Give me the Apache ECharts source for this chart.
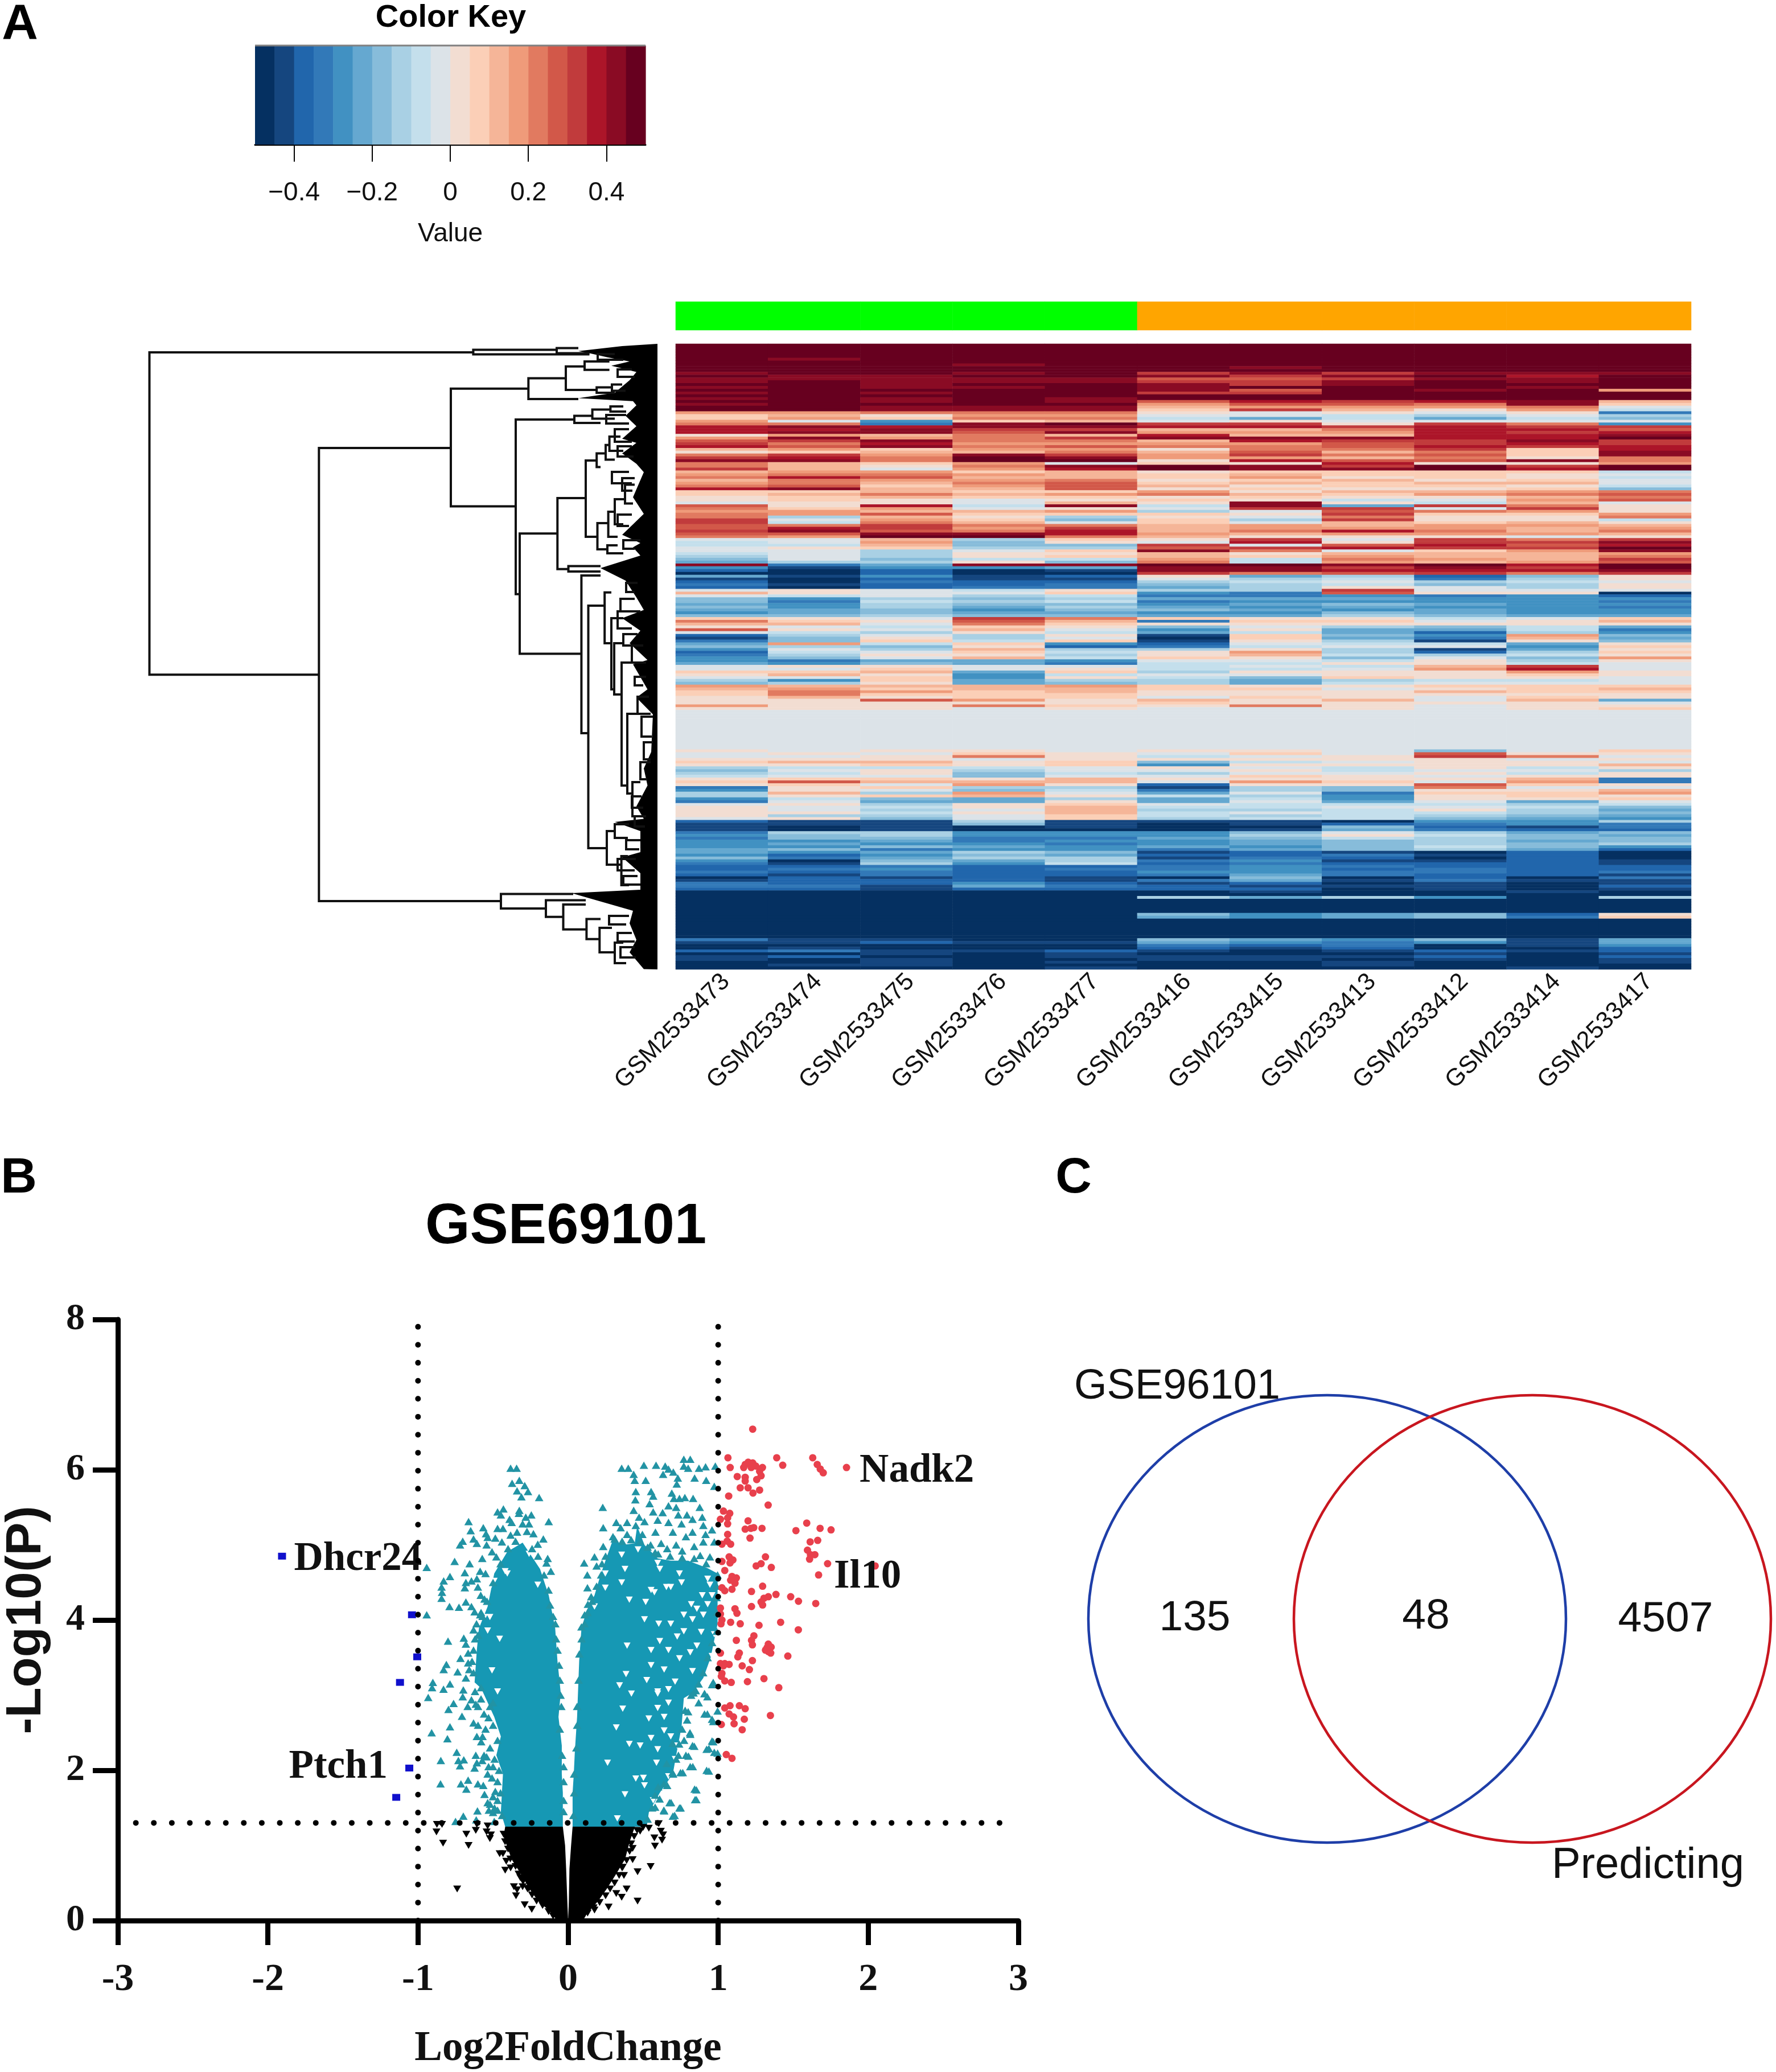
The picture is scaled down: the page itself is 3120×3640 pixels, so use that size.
<!DOCTYPE html>
<html><head><meta charset="utf-8">
<script src="https://cdn.jsdelivr.net/npm/echarts@6/dist/echarts.min.js"></script>
<style>html,body{margin:0;padding:0;background:#fff}#c{width:3120px;height:3640px}</style></head>
<body><div id="c"></div>
<script>
const keyColors=['#053061','#15467F','#2166AC','#3279B8','#4191C2','#65A8D0','#87BCDA','#A9D0E4','#C4DFEC','#DCE3E8','#F2DDD2','#FBCFB7','#F5B598','#EF9B7A','#E17A60','#D25849','#C13B3C','#AC1529','#8A0B24','#67001F'];
const keyTicks=[-0.4,-0.2,0,0.2,0.4];
const samples=['GSM2533473','GSM2533474','GSM2533475','GSM2533476','GSM2533477','GSM2533416','GSM2533415','GSM2533413','GSM2533412','GSM2533414','GSM2533417'];
const sampleGroups=[0,0,0,0,0,1,1,1,1,1,1];
// heat levels: a (lowest bin of the key) .. t (highest bin); one letter per sample; trailing number = repeated rows
const heatLevels=['ttttttttttt5','tsttttttttt','ttttttttttt','tttsttttttt','ttttttstttt','ttttttttttt',
'sttstqsqsss','tssttsqstrt','ssssspp qsst'.replace(' ',''),'stsssqqstst','ttsttsqsttt','stsststtts t'.replace(' ',''),'tttttsptstn','ststtqqtttt','ttttttttttt','ststsstttttt'.slice(0,5)+'tttttt','ttstsprqrsm','sttttnpposl','ttsssmnnnoj','ttssslqmkni','nnoookjkjkd','lmknnjjihjh','lnlooififig','njelmjkjjjj','oodstqqkqoe','rsrssrrqrqq','rrsqqmmorrp','rsspsnnnrqr','knmomrmmrrs','nsnoqsssrrt','pqsoomrqqsq','qornnnnpqrq','rpsopooprqr','mnlnnkooqlr','klmmompmols','oqnsqnqopls','qrotsnnmoko','ssottkrppso','omlnjlkrkkn','omkostsqtqt','qmjnrtsstrt','mnnlmklllli','noonmlmllkj','orpmmlnklki','monnoklmklj','nomoplmlmmj','oplnpmkllki','rsmmpklkklg','llmllnkmmno','lmomnomlnop','klmllklkkmo','klkjklkijnp','jkkjmkskimj','pkrisisfqok','olnjkjqqjqk','nnmmnhjponk','onplllkqlln','ohmkhkjokko','qjnlglhqkki','qiomjljmlmk','poqoomnmnnm','prqnqmnnnmn','qspormoromo','ppssrnmnnnm','onttomkkkjk','jjmhlkqjqoq','ijngkjrkqqs','iimggqjprpr','jklhhpqrqqt','jjhjlsojlns','ijhkkmkmmmn','hjhklmlnmmo','gjgiinionmq','fhhkgoinmnp','sdfssttstrt','ebeefssqsqt','cacabssrrrs','aacaaqopqoq','fbebckfhcgk','bacbbjhidhk','cadcchijhij','dbccdghighk','cacddfhkjhk','jkjikhhqjjj','mkjjledpkka','jijhiddedec','gehghfffeee','gdihideeeed','fehggefgfee','gehfhfefeed','ffgeggfefee','efgffeegfee','gghggffhgff','lkjqolkkijl','olkpmdlljkm','mmjolkkkkkk','kjilkgjhgif','pkjmjekffid','jihkififche','chjhkblgeng','bgkhjalfdmf','dglilbkhbkg','fnilecjiifk','ghgkcdijjel','ejhmhhkhbfk','cijliknhchl','dhkkhkmihik','egjmilkgjgn','edffejjikhk','fegfdiikkij','jkkjjijimqj','jjljkiijnrj','llmflhkkknk','kmkeijjkklk','jjlekiglkkj','helfhhfhiij','ghkfghfijjj',
'nmmmnlkklll','mnlmmlljklm','lonlmkkkmll','lolllkkkkkk','kmklljlkjlk','kkpnkmkmjmf','kkkkklkkkkj','nkkolkokjkk','kkkjkjjkjkl','jjjjjjjjjjj14',
'kjkkjkkjgjl','jkjlkjljpkk','jjkokijkqoj','kkkjkkkkkjk','lmmklgijkkj','kklklekkkkm','hiiijkjikik','gjkhjjkijjh','hikgihjjkik','ijjgjjlkjkk','kllkmkkkkmd','lpmmmjnljnd','kljnkckkplk','dklhhbhgojj','ekjgidhgkkm','hmhnjfjdlln','hklmkiheklk','eigfhfiekkl','djffkfjfjfj','jkhkljiiihi','kjikmiijjig','kjhjmhhikhf','kkikmijiihg','khhjlihihgf','jkgjlhiigfe',
'cbbhbbbaeeh','bbbgbabcded','bababaagcbd','babaaabfdcc','dhheeegjhfg','egheeehkigf','dggddfgihgg','eefdeefghfg','efeedefghgh','eegfefegige','fgdeedfghfc','fefhgbcbaca','ecegfccdbca','gdfhhbdcaca','eagfhdebbcb','dbheicdcccb','ccdccdedccc','cdecddecdcc','dcdcceeddcd','cbdccdfdccb','acbcbagacad','bcccbdfbdbb','dccecbcabab','ddbfdcbbbac','ccbccccabab',
'aaaaaabaaba','aaaaaaaaaaa','aaaaahfheah','aaaaaaaaaaa5','aaaaagefgck','aaaaafefgdl','aaaaaaaaaaa7','dbbaagfegbf','bbcbbfedebf','aaaaadcdabe','abaaacbcaac','cdbbcbabcbc','aababaaabab','bcaabbbbcac','babaabbabab','aababaabaab','abbaaaabaaa','aaaabaaaaba'];
// dendrogram: [merge height, top leaf, top child height, bottom leaf, bottom child height]
const dendroMerges=[[892.5,14.9,323.6,581.3,594.7],[323.6,10.5,177,18.5,119.5],[177,7.5,139,16.4,119.5],[594.7,183,363,979,275],[363,78.7,226.7,285.6,249],[226.7,60.4,161,97,139],[161,39.8,128,81,106.8],[128,31,84.4,45.7,84.4],[106.8,76.5,80,86,75],[80,71.4,62,82.4,56],[249,133,146,439.7,242],[146,126.4,114.4,138.9,100],[114.4,115.4,82.6,131.5,75],[82.6,110,60,119,55],[242,333.3,175.7,544.6,133.6],[175.7,271,126,395.7,156.5],[126,205,106.8,339,105.5],[106.8,192.4,91,216.6,100],[91,177.8,84.4,203.4,75],[84.4,163,65,188,60],[105.5,315,86,361,88],[86.4,295,75,339,70],[75,273,57,317,60],[57,247.5,40,280.5,43],[88,354,70,368,60],[156.5,390.5,100,400,100],[133.6,407,100,684,121.5],[121.5,460,92.8,886,89],[92.8,436.7,81,526,81],[81,482,60,607,76],[76,526,62,616,63],[63,560,45,776,53],[53,650,30,790,44],[44,770,30,830,30],[89,856,75,915,63.4],[75,844,50,868,52],[63.4,900,52,951,50],[275,966.5,148,992,196],[196,977.5,126,1006.8,165.5],[165.5,985,126,1028.8,124.6],[124.6,1010.5,100,1045.7,101.7],[101.7,1026,80,1069,75],[75,1052,60,1088,55],
[62,236,40,258,44],[70,300,45,320,50],[60,345,30,360,40],[55,420,35,436,40],[65,448,40,470,30],[70,470,40,500,45],[60,510,35,530,40],[45,530,25,560,20],[40,585,20,600,25],[35,620,15,650,12],[28,655,8,690,10],[24,700,8,730,12],[30,735,12,765,18],[45,795,28,815,25],[40,830,20,848,22],[55,872,30,888,32],[70,905,38,925,40],[60,935,35,950,30],[85,1005,50,1020,55],[70,1035,45,1050,40],[65,1060,40,1078,38],[105,18,75,28,60],[70,45,45,58,40],[90,125,55,140,50],[75,150,50,172,45],[70,180,45,198,42],[80,225,50,245,45]];
// dendrogram leaf fans: envelope [height, leaf]
const dendroLeafFan=[[0,0],[62,3.9],[139,12.7],[119.5,16.4],[87.6,23.7],[49,31],[81,38.4],[37,49.4],[49,64],[75,86],[139,95.6],[43,100.7],[37,108],[56,126.4],[37,144.7],[62,166.8],[37,174],[62,192.4],[37,210.8],[24,225.4],[43,269.5],[24,298.8],[62,335.5],[30,350],[43,357.5],[30,372],[100,394],[56,416],[37,445.6],[24,467.6],[62,482],[30,504],[49,526],[17.5,555.6],[43,563],[17.5,607],[37,621.6],[8,651],[11,717],[24,746],[17.5,776],[37,812.4],[24,834.4],[75,840],[30,856],[30,893],[62,902],[30,930],[30,959],[151,965],[43,996],[49,1018],[37,1047],[49,1069],[24,1098.5],[0,1099]];
const thresholdsFC=[-1,1];
const thresholdP=1.3;
const massUpLeft=[[-.303,5.03],[-.187,4.68],[-.129,4.33],[-.086,3.89],[-.071,3.46],[-.049,3.03],[-.064,2.71],[-.042,2.33],[-.042,1.95],[-.035,1.7],[-.035,1.25],[-.419,1.25],[-.448,1.44],[-.434,1.95],[-.478,2.2],[-.448,2.45],[-.492,2.71],[-.579,3.09],[-.623,3.17],[-.608,3.6],[-.594,3.89],[-.536,4.18],[-.492,4.62],[-.405,4.91]];
const massUpRight=[[.03,1.25],[.03,1.7],[.038,1.95],[.045,2.25],[.06,2.71],[.067,3.09],[.074,3.46],[.089,3.89],[.125,4.13],[.176,4.33],[.219,4.62],[.27,4.91],[.299,5.07],[.364,5],[.444,5.02],[.46,5.25],[.509,5],[.597,4.82],[.684,4.79],[.8,4.79],[.93,4.69],[.996,4.62],[.996,3.95],[.95,3.5],[.901,3.23],[.829,3.03],[.771,2.96],[.756,2.58],[.72,2.2],[.698,1.95],[.611,1.7],[.538,1.44],[.524,1.25]];
const massNsLeft=[[-.419,1.25],[-.43,1.12],[-.375,.81],[-.318,.63],[-.26,.43],[-.2,.26],[-.13,.14],[-.085,.03],[-.08,0],[0,0],[-.005,.25],[-.013,.69],[-.02,1],[-.035,1.25]];
const massNsRight=[[.03,1.25],[.02,1],[.009,.69],[.005,.25],[0,0],[.09,0],[.12,.08],[.2,.26],[.26,.43],[.32,.62],[.38,.82],[.41,1.05],[.445,1.25]];
const upGaps=[[.357,4.87],[.357,4.5],[.379,4.68],[.466,4.94],[.597,4.76],[.611,4.68],[.742,4.62],[.756,4.5],[.93,4.55],[.945,4.47],[.894,4.33],[.821,4.21],[.858,4.15],[.517,4.24],[.553,4.4],[.575,4.37],[.655,4.44],[.684,4.44],[.408,4.27],[.248,4.62],[.248,4.43],[.176,4.18],[.509,4.01],[.604,3.95],[.684,3.95],[.771,3.85],[.727,3.78],[.611,3.72],[.553,3.6],[.742,3.49],[.829,4.01],[.669,3.6],[.887,3.84],[.553,3.4],[.64,3.34],[.713,3.18],[.597,3.05],[.669,3.08],[.393,3.66],[.343,3.13],[.386,3.28],[.814,3.57],[.524,3.2],[.771,4.07],[.858,3.66],[.93,4.21],[.959,4.33],[.901,4.07],[.974,3.81],[.959,3.52],[.829,3.32],[.597,3.02],[.597,2.83],[.669,2.9],[.538,2.69],[.64,2.71],[.64,2.53],[.597,2.28],[.589,2.1],[.451,1.89],[.502,1.9],[.509,1.8],[.48,2.33],[.263,2.1],[.328,1.36],[.567,1.6],[.379,1.68],[.408,2.35],[.321,2.57],[.364,2.82],[.422,3.02],[.727,2.33],[.684,2.45],[.713,2.15],[.669,1.92],[.553,2.43],[.611,1.57],[-.507,3.33],[-.456,3.75],[-.536,3.86],[-.521,4.04],[-.55,4.27],[-.572,4.24],[-.492,4.52],[-.405,4.62],[-.419,4.65],[-.202,4.47],[-.47,3.05],[-.528,4.41],[-.557,4.04],[-.26,4.88]];
const upPoints=[[-.383,6.02],[-.343,6.02],[-.373,5.82],[-.325,5.86],[-.289,5.79],[-.34,5.72],[-.267,5.71],[-.311,5.64],[-.193,5.63],[-.47,5.44],[-.431,5.48],[-.448,5.4],[-.325,5.46],[-.328,5.42],[-.245,5.4],[-.282,5.37],[-.39,5.34],[-.376,5.3],[-.303,5.28],[-.26,5.28],[-.129,5.31],[-.663,5.31],[-.649,5.19],[-.565,5.23],[-.547,5.15],[-.536,5.1],[-.47,5.22],[-.434,5.22],[-.34,5.17],[-.383,5.13],[-.274,5.18],[-.231,5.15],[-.165,5.08],[-.202,5.01],[-.485,5.09],[-.441,5.04],[-.63,5.08],[-.608,5.02],[-.702,5.05],[-.72,5],[-.543,5],[-.756,4.78],[-.656,4.75],[-.942,4.7],[-.572,4.82],[-.507,4.91],[-.478,4.84],[-.136,4.82],[-.144,4.76],[-.115,4.65],[-.787,4.58],[-.829,4.52],[-.843,4.44],[-.84,4.37],[-.843,4.29],[-.688,4.63],[-.681,4.5],[-.644,4.52],[-.688,4.43],[-.601,4.44],[-.586,4.65],[-.55,4.62],[-.608,4.55],[-.582,4.33],[-.557,4.28],[-.681,4.24],[-.644,4.18],[-.727,4.17],[-.79,4.18],[-.942,4.07],[-.623,4.11],[-.586,4.07],[-.63,3.87],[-.695,3.76],[-.8,3.72],[-.681,3.68],[-.666,3.56],[-.717,3.49],[-.811,3.41],[-.829,3.34],[-.736,3.31],[-.666,3.43],[-.659,3.34],[-.681,3.23],[-.901,3.17],[-.906,3.1],[-.787,3.15],[-.83,3.08],[-.698,3.07],[-.702,2.98],[-.932,2.97],[-.763,2.89],[-.797,2.81],[-.644,2.94],[-.669,2.85],[-.62,3.05],[-.707,2.72],[-.787,2.58],[-.909,2.5],[-.804,2.42],[-.615,2.88],[-.63,2.63],[-.608,2.45],[-.579,2.38],[-.742,2.24],[-.615,2.2],[-.848,2.13],[-.731,2.13],[-.695,2.14],[-.72,2.06],[-.623,2.03],[-.608,2.1],[-.543,2.18],[-.572,2.13],[-.85,1.82],[-.714,1.82],[-.666,1.87],[-.678,1.75],[-.601,1.82],[-.565,1.8],[-.536,1.95],[-.507,1.9],[-.485,1.72],[-.557,1.68],[-.536,1.57],[-.604,1.46],[-.528,1.47],[-.5,1.44],[-.698,1.39],[-.75,1.32],[-.612,1.34],[-.492,1.32],[-.47,1.47],[-.5,2.9],[-.53,2.7],[-.55,2.55],[-.57,2.45],[-.52,2.3],[-.56,2.2],[-.5,2.05],[-.53,2.05],[-.47,1.85],[-.5,1.65],[-.52,1.55],[-.47,1.6],[-.49,1.5],[-.56,2.75],[-.6,2.85],[-.58,2.95],[-.6,2.6],[-.63,3.3],[-.64,3.45],[-.63,3.6],[-.62,3.75],[-.61,3.95],[-.58,4.1],
[-.13,4.4],[-.12,4.2],[-.1,4.05],[-.085,3.95],[-.08,3.75],[-.07,3.6],[-.06,3.4],[-.055,3.2],[-.05,3],[-.045,2.85],[-.055,2.55],[-.04,2.2],[-.03,2.05],[-.03,1.85],[-.03,1.6],[-.03,1.45],[-.16,4.6],[-.2,4.85],[-.24,4.95],[-.44,1.4],[-.45,1.7],[-.46,2],[-.49,2.15],[-.47,2.4],[-.5,2.6],[-.52,2.85],[-.58,3.1],[-.6,3.8],[-.57,4.05],[-.54,4.25],[-.5,4.5],[-.45,4.75],[-.4,4.95],[-.35,5.05],[.035,1.4],[.04,1.7],[.04,1.95],[.055,2.3],[.06,2.6],[.06,2.85],[.07,3.2],[.075,3.55],[.09,3.75],[.11,3.95],[.13,4.1],[.16,4.25],[.19,4.45],[.22,4.6],[.25,4.85],[.53,1.35],[.56,1.5],[.61,1.62],[.66,1.8],[.7,1.95],[.72,2.15],[.74,2.35],[.76,2.55],[.78,2.8],[.82,3],[.87,3.15],[.9,3.3],[.93,3.5],[.96,3.7],[.99,3.85],[.99,4.1],[.99,4.3],[.99,4.45],[.31,5.08],[.36,5.05],[.42,5.07],[.48,5.05],[.53,4.97],[.6,4.88],[.68,4.85],[.76,4.83],[.84,4.82],[.92,4.75],
[.357,6.02],[.401,6.02],[.437,5.94],[.444,5.86],[.505,6.06],[.517,5.86],[.586,6.06],[.647,6.05],[.669,6.01],[.633,5.94],[.701,5.97],[.731,5.89],[.724,5.81],[.771,6.14],[.814,6.14],[.771,6.05],[.8,6.02],[.872,6.02],[.916,6.04],[.981,6.05],[.843,5.89],[.92,5.86],[.974,5.78],[.451,5.71],[.448,5.6],[.553,5.71],[.567,5.65],[.691,5.69],[.705,5.62],[.742,5.62],[.778,5.63],[.833,5.62],[.543,5.55],[.669,5.52],[.72,5.5],[.877,5.5],[.231,5.5],[.437,5.46],[.473,5.37],[.567,5.44],[.63,5.43],[.734,5.4],[.792,5.4],[.894,5.37],[.829,5.34],[.509,5.31],[.597,5.33],[.669,5.3],[.756,5.28],[.321,5.3],[.393,5.3],[.234,5.23],[.35,5.23],[.451,5.26],[.901,5.26],[.959,5.2],[.829,5.17],[.916,5.14],[.299,5.11],[.393,5.14],[.495,5.14],[.582,5.17],[.698,5.17],[.785,5.11],[.901,5.04],[.974,5.04],[.234,4.98],[.176,4.84],[.107,4.76],[.19,4.72],[.226,4.75],[.128,4.6],[.129,4.43],[.154,4.31],[.132,4.21],[.11,4.07],[.089,3.91],[.945,4.84],[.996,4.6],[.55,5],[.62,5.02],[.66,4.95],[.72,5],[.76,4.92],[.84,4.98],[.88,4.86],[.58,4.9],
[.928,2.75],[.996,2.79],[.967,2.65],[.812,2.5],[.841,2.32],[.967,2.38],[.938,2.29],[.996,2.23],[.802,2.19],[.831,2.05],[.938,1.99],[.764,1.97],[.686,1.57],[.75,1.5],[.855,1.74],[.855,1.61],[.71,1.4],[.638,1.47],[.58,1.51],[.6,1.78],[.638,1.82],[.58,1.67],[.696,1.97],[.657,2.09],[.735,2.2],[.696,2.36],[.773,2.4],[.793,2.67],[.87,2.9],[.909,3.02],[.851,3.06],[.967,3.17],[.928,2.98],[.676,1.57],[.64,1.46],[.742,1.5],[.698,1.39],[.843,1.75],[.846,1.61],[.923,2],[.749,1.97],[.814,2.05],[.785,2.2],[.923,2.28],[.959,2.39],[.974,2.24],[.829,2.33],[.814,2.48],[.8,2.78],[.909,2.75],[.959,2.68],[.909,3.02],[.836,3.03],[.959,3.14]];
const nsPoints=[[-.874,1.28],[-.84,1.28],[-.877,1.18],[-.833,1.03],[-.678,1.15],[-.663,1],[-.615,1.2],[-.608,1.28],[-.536,1.26],[-.543,1.18],[-.514,1.14],[-.521,1.09],[-.739,.42],[-.456,.89],[-.434,.89],[-.419,.67],[-.412,.79],[-.383,.7],[-.318,.57],[-.296,.54],[-.361,.45],[-.34,.41],[-.347,.33],[-.289,.21],[-.242,.15],[-.165,.22],[-.303,.45],[-.26,.43],[.604,1.29],[.618,1.19],[.633,1.14],[.626,1.07],[.575,1.1],[.579,.99],[.538,1.23],[.48,1.19],[.43,.96],[.43,.81],[.55,.72],[.463,.65],[.372,.6],[.39,.42],[.463,.26],[.357,.31],[.27,.18],[.176,.14],[.321,.36],[.364,.71],[.379,1.04],[.408,1.12],
[-.43,1.15],[-.42,1.05],[-.4,.95],[-.385,.82],[-.35,.72],[-.33,.62],[-.3,.52],[-.27,.42],[-.24,.34],[-.21,.26],[-.17,.2],[-.13,.12],[-.1,.06],[.1,.05],[.13,.1],[.17,.17],[.21,.24],[.25,.33],[.28,.42],[.31,.5],[.34,.6],[.36,.7],[.39,.8],[.41,.92],[.42,1.02],[.44,1.12],[.46,1.2],[.5,1.24]];
const sigUpPoints=[[1.23,6.54],[1.065,6.16],[1.08,6.03],[1.18,6.07],[1.2,6.1],[1.23,6.09],[1.22,6.03],[1.17,6.03],[1.25,6.05],[1.39,6.16],[1.43,6.06],[1.63,6.16],[1.66,6.07],[1.68,6.01],[1.7,5.96],[1.855,6.03],[1.295,6.03],[1.276,5.98],[1.286,5.92],[1.257,5.87],[1.127,5.91],[1.18,5.9],[1.18,5.85],[1.147,5.76],[1.199,5.76],[1.232,5.69],[1.276,5.73],[1.07,5.65],[1.333,5.53],[1.035,5.45],[1.077,5.42],[1.015,5.34],[1.063,5.36],[1.063,5.28],[1.199,5.32],[1.18,5.21],[1.218,5.22],[1.237,5.23],[1.292,5.22],[1.212,5.09],[1.518,5.19],[1.59,5.29],[1.679,5.22],[1.752,5.2],[1.663,5.06],[1.613,5.04],[1.595,4.93],[1.615,4.87],[1.644,4.87],[1.609,4.81],[1.063,5.14],[1.06,5.05],[1.025,5.01],[1.083,5.01],[1.729,4.75],[2.046,4.72],[1.669,4.6],[1.073,4.84],[1.098,4.8],[1.025,4.78],[1.079,4.76],[1.044,4.66],[1.315,4.84],[1.286,4.75],[1.253,4.72],[1.354,4.7],[1.092,4.58],[1.121,4.56],[1.112,4.49],[1.083,4.53],[1.092,4.41],[1.025,4.43],[1.044,4.39],[1.222,4.38],[1.296,4.45],[1.385,4.34],[1.334,4.31],[1.305,4.29],[1.286,4.24],[1.296,4.2],[1.222,4.18],[1.483,4.31],[1.535,4.25],[1.65,4.22],[1.015,4.16],[1.015,4.08],[1.112,4.15],[1.125,4.09],[1.025,4],[1.083,3.97],[1.147,3.95],[1.272,3.93],[1.416,3.97],[1.534,3.87],[1.019,3.95],[1.121,3.73],[1.238,3.79],[1.222,3.73],[1.228,3.67],[1.334,3.68],[1.325,3.63],[1.353,3.64],[1.334,3.58],[1.315,3.6],[1.35,3.56],[1.141,3.56],[1.131,3.51],[1.464,3.52],[1.228,3.46],[1.015,3.56],[1.015,3.42],[1.044,3.42],[1.073,3.41],[1.035,3.39],[1.16,3.39],[1.208,3.34],[1.025,3.29],[1.021,3.25],[1.044,3.19],[1.087,3.17],[1.195,3.18],[1.305,3.22],[1.404,3.1],[1.079,2.86],[1.044,2.83],[1.141,2.86],[1.18,2.82],[1.073,2.75],[1.102,2.71],[1.174,2.68],[1.348,2.73],[1.021,2.61],[1.106,2.62],[1.16,2.54],[1.054,2.21],[1.092,2.16]];
const sigDownPoints=[[-1.906,4.85],[-1.04,4.07],[-1.005,3.51],[-1.12,3.17],[-1.058,2.03],[-1.145,1.64]];
const geneNames=['Dhcr24','Ptch1','Nadk2','Il10'];
const geneValues=[[-1.906,4.85],[-1.058,2.03],[1.855,6.03],[1.729,4.75]];
const vennCounts=[135,48,4507];
const vennSets=['GSE96101','Predicting'];

/* ---------- layout & style ---------- */
const SANS='"Liberation Sans",Arial,sans-serif', SERIF='"Liberation Serif","Times New Roman",serif';
const geneLabelStyle={Dhcr24:['right',21,[0,6]],Ptch1:['left',38,[0,-1]],Nadk2:['right',23,[0,7]],Il10:['right',11,[0,24]]};
const vennRing=[{cx:2331.5,cy:2844,rx:419.5,ry:393,color:'#1E3EA8'},{cx:2692,cy:2844,rx:419,ry:393,color:'#C8161F'}];
const vennTextPos=[[2099,2843],[2505,2840],[2926,2845]];
const vennSetPos=[[2068,2437],[2895,3278]];

const rows=[];heatLevels.forEach(s=>{const n=+s.slice(11)||1;for(let k=0;k<n;k++)rows.push(s.slice(0,11));});
const heatData=[];rows.forEach((r,ri)=>{for(let c=0;c<11;c++){heatData.push([c,ri,-0.475+0.05*(r.charCodeAt(c)-97)]);}});
const bareAxis=(o)=>Object.assign({axisLine:{show:false},axisTick:{show:false},axisLabel:{show:false},splitLine:{show:false}},o);
const grids=[
 {left:448,top:80,width:686,height:174},
 {left:1187,top:530,width:1784,height:50},
 {left:1187,top:604,width:1784,height:1099},
 {left:262,top:604,width:893,height:1099},
 {left:207,top:2318,width:1582,height:1056},
 {left:0,top:0,width:3120,height:3640}
].map(g=>Object.assign(g,{outerBoundsMode:'none',containLabel:false}));
const xAxes=[
 {gridIndex:0,type:'value',min:-0.5,max:0.5,splitLine:{show:false},axisLine:{lineStyle:{color:'#000',width:3}},
  axisTick:{customValues:keyTicks,length:30,lineStyle:{color:'#000',width:2}},
  axisLabel:{customValues:keyTicks,margin:62,fontSize:46,fontFamily:SANS,color:'#111',formatter:v=>v===0?'0':(v<0?'\u2212':'')+Math.abs(v).toFixed(1)},
  name:'Value',nameLocation:'middle',nameGap:134,nameTextStyle:{fontSize:46,fontFamily:SANS,color:'#111'}},
 bareAxis({gridIndex:1,type:'category',data:samples}),
 {gridIndex:2,type:'category',data:samples,axisLine:{show:false},axisTick:{show:false},splitLine:{show:false},
  axisLabel:{interval:0,rotate:45,fontSize:43,fontFamily:SANS,color:'#111',margin:22,padding:[0,-10,0,0]}},
 bareAxis({gridIndex:3,type:'value',min:0,max:893,inverse:true}),
 {gridIndex:4,type:'value',min:-3,max:3,interval:1,z:10,splitLine:{show:false},axisLine:{onZero:false,lineStyle:{color:'#000',width:9}},
  axisTick:{length:43,lineStyle:{color:'#000',width:9}},axisLabel:{margin:70,fontSize:68,fontWeight:'bold',fontFamily:SERIF,color:'#111'},
  name:'Log2FoldChange',nameLocation:'middle',nameGap:190,nameTextStyle:{fontSize:73,fontWeight:'bold',fontFamily:SERIF,color:'#111'}},
 bareAxis({gridIndex:5,type:'value',min:0,max:3120})
];
const yAxes=[
 bareAxis({gridIndex:0,type:'value',min:0,max:1}),
 bareAxis({gridIndex:1,type:'category',data:['group']}),
 bareAxis({gridIndex:2,type:'category',inverse:true,data:rows.map((_,i)=>i)}),
 bareAxis({gridIndex:3,type:'value',min:0,max:1099,inverse:true}),
 {gridIndex:4,type:'value',min:0,max:8,interval:2,z:10,splitLine:{show:false},axisLine:{onZero:false,lineStyle:{color:'#000',width:9}},
  axisTick:{length:44,lineStyle:{color:'#000',width:9}},axisLabel:{margin:58,fontSize:66,fontWeight:'bold',fontFamily:SERIF,color:'#111'},
  name:'-Log10(P)',nameLocation:'middle',nameGap:116,nameTextStyle:{fontSize:87,fontWeight:'bold',fontFamily:SANS,color:'#111'}},
 bareAxis({gridIndex:5,type:'value',min:0,max:3640,inverse:true})
];
const polySeries=(name,xi,polys,color,stroke)=>({type:'custom',name,xAxisIndex:xi,yAxisIndex:xi,silent:true,clip:false,encode:{x:0,y:1},
  data:polys.map(()=>[0,0]),renderItem:(p,api)=>({type:'polygon',shape:{points:polys[p.dataIndex].map(q=>api.coord(q))},style:{fill:color,stroke:stroke||color,lineWidth:stroke?2:0}})});
const scat=(name,data,symbol,size,color,extra)=>Object.assign({type:'scatter',name,xAxisIndex:4,yAxisIndex:4,silent:true,data,symbol,symbolSize:size,itemStyle:{color,opacity:1},large:false,progressive:0},extra||{});
const threshLine=(pts)=>({type:'line',xAxisIndex:4,yAxisIndex:4,silent:true,symbol:'none',data:pts,lineStyle:{color:'#000',width:10,cap:'round',type:[0.01,31.6]},animation:false});

const series=[
 {type:'custom',name:'Color Key',xAxisIndex:0,yAxisIndex:0,silent:true,encode:{x:[0,1],y:2},
  data:keyColors.map((c,i)=>[-0.5+i*0.05,-0.45+i*0.05,0]),
  renderItem:(p,api)=>{const a=api.coord([api.value(0),1]),b=api.coord([api.value(1),0]);
    return {type:'rect',shape:{x:a[0],y:a[1],width:b[0]-a[0]+0.6,height:b[1]-a[1]},style:{fill:keyColors[p.dataIndex]}};}},
 {type:'heatmap',name:'Group',xAxisIndex:1,yAxisIndex:1,silent:true,progressive:0,data:sampleGroups.map((g,i)=>[i,0,g])},
 {type:'heatmap',name:'Expression',xAxisIndex:2,yAxisIndex:2,silent:true,progressive:0,data:heatData},
 polySeries('Leaves',3,[dendroLeafFan],'#000'),
 {type:'custom',name:'Dendrogram',xAxisIndex:3,yAxisIndex:3,silent:true,encode:{x:0,y:1},clip:false,
  data:dendroMerges.map(m=>[m[0],m[1]]),
  renderItem:(p,api)=>{const m=dendroMerges[p.dataIndex];
    return {type:'polyline',shape:{points:[[m[2],m[1]],[m[0],m[1]],[m[0],m[3]],[m[4],m[3]]].map(q=>api.coord(q))},style:{fill:'none',stroke:'#111',lineWidth:4}};}},
 polySeries('Up mass L',4,[massUpLeft],'#1698B4'),
 polySeries('Up mass R',4,[massUpRight],'#1698B4'),
 scat('Gaps',upGaps,'triangle',[12,11],'#ffffff',{symbolRotate:180}),
 scat('Up',upPoints,'triangle',[15,13],'#2293A4'),
 polySeries('NS mass L',4,[massNsLeft],'#000'),
 polySeries('NS mass R',4,[massNsRight],'#000'),
 scat('NS',nsPoints,'triangle',[14,12],'#000',{symbolRotate:180}),
 scat('Sig up',sigUpPoints,'circle',13,'#E8404C'),
 scat('Sig down',sigDownPoints,'rect',[14,12],'#1010CC'),
 threshLine([[thresholdsFC[0],0],[thresholdsFC[0],8]]),
 threshLine([[thresholdsFC[1],0],[thresholdsFC[1],8]]),
 threshLine([[-2.88,thresholdP],[2.9,thresholdP]]),
 {type:'scatter',name:'Genes',xAxisIndex:4,yAxisIndex:4,silent:true,symbolSize:0,itemStyle:{opacity:1},
  data:geneNames.map((g,i)=>({name:g,value:geneValues[i],label:{show:true,formatter:g,position:geneLabelStyle[g][0],distance:geneLabelStyle[g][1],offset:geneLabelStyle[g][2],fontSize:71,fontWeight:'bold',fontFamily:SERIF,color:'#111'}}))},
 {type:'custom',name:'Venn',xAxisIndex:5,yAxisIndex:5,silent:true,encode:{x:0,y:1},clip:false,
  data:vennSets.map((_,i)=>[vennRing[i].cx,vennRing[i].cy]),
  renderItem:(p,api)=>{const r=vennRing[p.dataIndex],c=api.coord([r.cx,r.cy]);
    return {type:'ellipse',shape:{cx:c[0],cy:c[1],rx:r.rx,ry:r.ry},style:{fill:'none',stroke:r.color,lineWidth:4.5}};}},
 {type:'scatter',name:'Venn counts',xAxisIndex:5,yAxisIndex:5,silent:true,symbolSize:0,itemStyle:{opacity:1},
  data:vennCounts.map((v,i)=>({value:vennTextPos[i],label:{show:true,position:'inside',formatter:String(v),fontSize:75,fontFamily:SANS,color:'#111'}}))},
 {type:'scatter',name:'Venn sets',xAxisIndex:5,yAxisIndex:5,silent:true,symbolSize:0,itemStyle:{opacity:1},
  data:vennSets.map((v,i)=>({value:vennSetPos[i],label:{show:true,position:'inside',formatter:v,fontSize:i?76:74,fontFamily:SANS,color:'#111'}}))},
 {type:'custom',name:'Key edge',xAxisIndex:0,yAxisIndex:0,silent:true,encode:{x:0,y:1},data:[[-0.5,1]],
  renderItem:(p,api)=>{const a=api.coord([-0.5,1]),b=api.coord([0.5,1]);return {type:'line',shape:{x1:a[0],y1:a[1],x2:b[0],y2:b[1]},style:{stroke:'#808080',lineWidth:3}};}}
];
const T=(text,left,top,size,color)=>({text,left,top,textAlign:'center',textStyle:{fontSize:size,fontWeight:'bold',fontFamily:SANS,color:color||'#000'}});
const chart=echarts.init(document.getElementById('c'),null,{renderer:'canvas',width:3120,height:3640});
chart.setOption({
 animation:false,backgroundColor:'#fff',
 title:[T('A',30,-5,88),T('B',28,2022,88),T('C',1881,2022,88),T('Color Key',787,-1,56),T('GSE69101',989,2101,101)],
 grid:grids,xAxis:xAxes,yAxis:yAxes,series,
 visualMap:[
  {type:'piecewise',show:false,seriesIndex:2,dimension:2,pieces:keyColors.map((c,i)=>({gte:-0.5+i*0.05,lt:-0.45+i*0.05,color:c}))},
  {type:'piecewise',show:false,seriesIndex:1,dimension:2,pieces:[{value:0,color:'#00FF00'},{value:1,color:'#FFA500'}]}
 ]
});
</script></body></html>
